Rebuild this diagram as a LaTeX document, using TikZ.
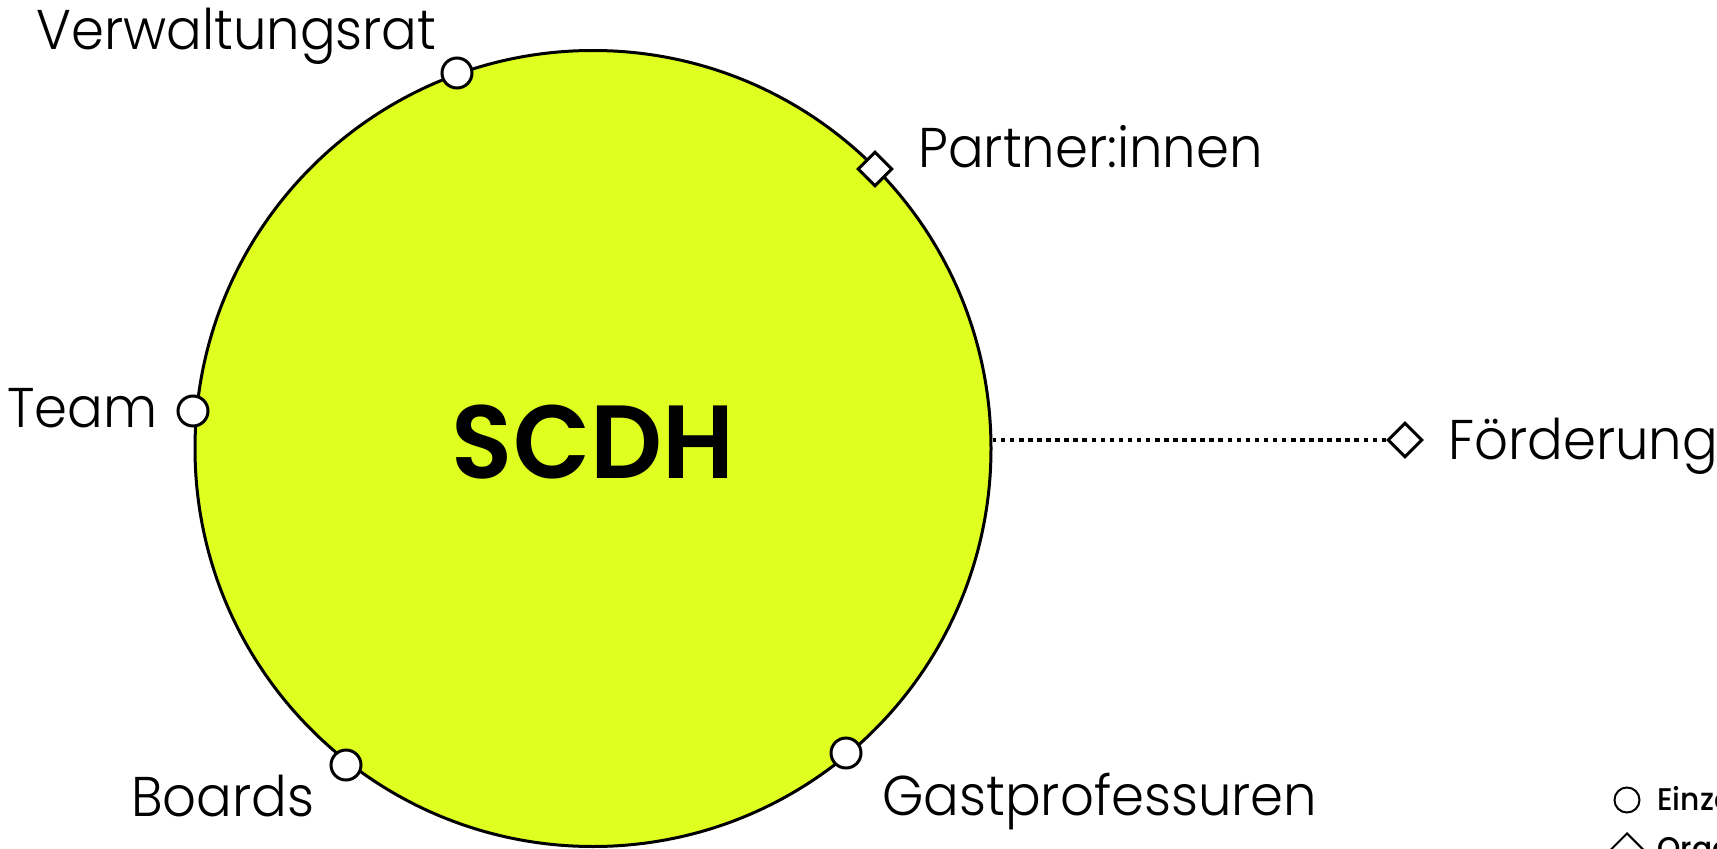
\documentclass[tikz,border=0pt]{standalone}
\usepackage{fontspec}
\setmainfont{Poppins Light}[FakeStretch=0.945]
\newfontfamily\scdhfont{Poppins SemiBold}[FakeStretch=0.965]
\newfontfamily\legendfont{Poppins Medium}[FakeStretch=0.95]
\usetikzlibrary{shapes.geometric}
\definecolor{lime}{RGB}{222,255,31}
\begin{document}
\begin{tikzpicture}[x=0.75pt,y=-0.75pt,
  lbl/.style={font=\fontsize{42}{50}\selectfont, inner sep=0pt, anchor=base west},
  leglbl/.style={font=\legendfont\fontsize{23.5}{28}\selectfont, inner sep=0pt, anchor=base west},
  person/.style={circle, draw, line width=2.25pt, fill=white, inner sep=0pt, minimum size=22.5pt},
  org/.style={diamond, draw, line width=2.25pt, fill=white, inner sep=0pt, minimum size=26pt},
  legperson/.style={circle, draw, line width=1.5pt, fill=white, inner sep=0pt, minimum size=18.75pt},
  legorg/.style={diamond, draw, line width=1.5pt, fill=white, inner sep=0pt, minimum size=24pt},
  dots/.style={line width=2.6pt, dash pattern=on 3.4pt off 3.4pt}]
\useasboundingbox (0,0) rectangle (1717,849);
\node[circle, draw, line width=2.25pt, fill=lime, inner sep=0pt, minimum size=597pt] (scdh) at (593,448.5) {};
\node[font=\scdhfont\fontsize{78}{90}\selectfont, inner sep=0pt, anchor=base] (scdhlabel) at (593,478) {SCDH};
% markers
\node[person] (verw) at (457,73) {};
\node[org] (partner) at (875,169) {};
\node[person] (team) at (193,411) {};
\node[person] (boards) at (346,765) {};
\node[person] (gast) at (846,753) {};
\node[org] (foerd) at (1405,440) {};
\draw[dots] (foerd.west) -- (foerd.west -| scdh.east);
% labels
\node[lbl] (verwlabel) at (36,50) {Verwaltungsrat};
\node[lbl] (partnerlabel) at (918,167) {Partner:innen};
\node[lbl] (teamlabel) at (7,427) {Team};
\node[lbl] (boardslabel) at (131,816) {Boards};
\node[lbl] (gastlabel) at (882,815) {Gastprofessuren};
\node[lbl] (foerdlabel) at (1448,459) {Förderung};
% legend
\node[legperson] (legp) at (1627,800) {};
\node[leglbl] (legplabel) at (1657,810) {Einzelpersonen};
\node[legorg] (lego) at (1627,849) {};
\node[leglbl] (legolabel) at (1657,859) {Organisationen};
\end{tikzpicture}
\end{document}
